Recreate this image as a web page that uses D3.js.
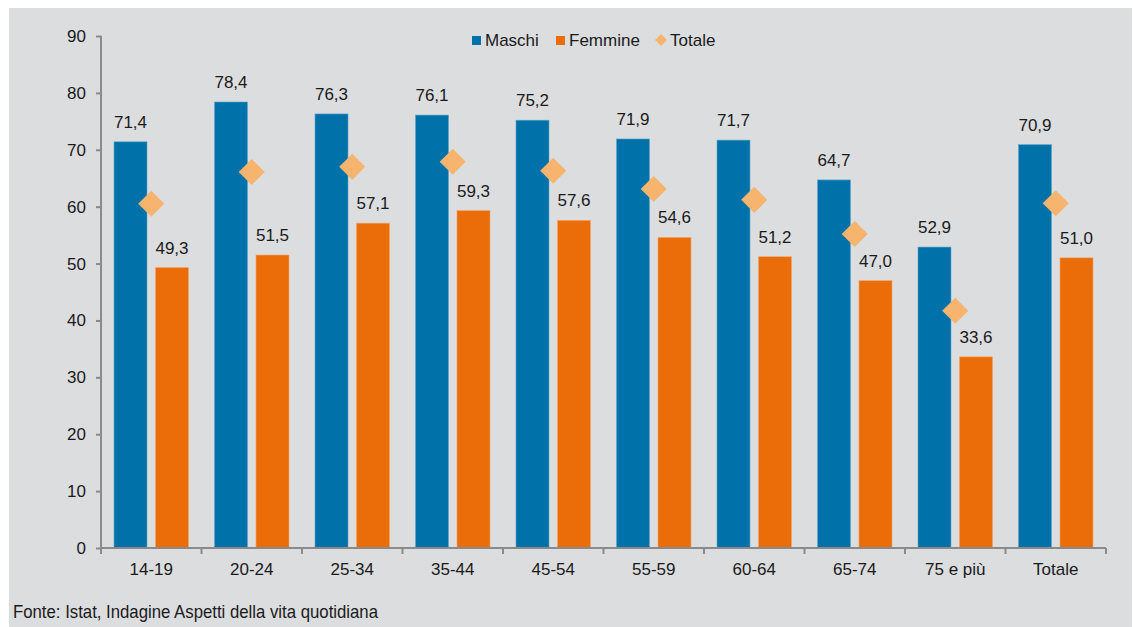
<!DOCTYPE html>
<html lang="it">
<head>
<meta charset="UTF-8">
<title>Grafico</title>
<style>
  body { margin: 0; background: #ffffff; }
  svg text { font-family: "Liberation Sans", Arial, sans-serif; fill: #1a1a1a; }
</style>
</head>
<body>
<script src="https://cdn.jsdelivr.net/npm/d3@7"></script>
<script>
// dati
var categorie = ["14-19", "20-24", "25-34", "35-44", "45-54", "55-59", "60-64", "65-74", "75 e più", "Totale"];
var maschi  = [71.4, 78.4, 76.3, 76.1, 75.2, 71.9, 71.7, 64.7, 52.9, 70.9];
var femmine = [49.3, 51.5, 57.1, 59.3, 57.6, 54.6, 51.2, 47.0, 33.6, 51.0];
var totale  = [60.5, 66.1, 67.0, 67.9, 66.3, 63.1, 61.2, 55.2, 41.7, 60.6];
var yTicks = [0, 10, 20, 30, 40, 50, 60, 70, 80, 90];
var serie = ["Maschi", "Femmine", "Totale"];

var W = 1133, H = 627;
var colBlu = "#0072a9", colAra = "#ea6d0a", colTot = "#f6b46f";
var fs = 17;

var svg = d3.select("body").append("svg").attr("width", W).attr("height", H);

// sfondo grigio
svg.append("rect").attr("x", 9).attr("y", 8).attr("width", W - 10).attr("height", H - 8)
    .attr("fill", "#dcdddf");

var x0 = 101, x1 = 1106, yTop = 36, yBot = 548;

var x = d3.scaleBand().domain(categorie).range([x0, x1]).paddingInner(0).paddingOuter(0);
var y = d3.scaleLinear().domain([0, 90]).range([yBot, yTop]);

var bw = 33, gap = 8.5;

var fmt = function (v) { return d3.format(".1f")(v).replace(".", ","); };

// barre maschi
svg.append("g").selectAll("rect").data(maschi).join("rect")
    .attr("x", function (d, i) { return x(categorie[i]) + x.bandwidth() / 2 - gap / 2 - bw; })
    .attr("y", function (d) { return y(d); })
    .attr("width", bw)
    .attr("height", function (d) { return y(0) - y(d); })
    .attr("fill", colBlu).attr("stroke", "#5aa6cc").attr("stroke-width", 0.6);

// barre femmine
svg.append("g").selectAll("rect").data(femmine).join("rect")
    .attr("x", function (d, i) { return x(categorie[i]) + x.bandwidth() / 2 + gap / 2; })
    .attr("y", function (d) { return y(d); })
    .attr("width", bw)
    .attr("height", function (d) { return y(0) - y(d); })
    .attr("fill", colAra).attr("stroke", "#f3a466").attr("stroke-width", 0.6);

// etichette
svg.append("g").selectAll("text").data(maschi).join("text")
    .attr("x", function (d, i) { return x(categorie[i]) + x.bandwidth() / 2 - gap / 2 - bw / 2; })
    .attr("y", function (d) { return y(d) - 14; })
    .attr("text-anchor", "middle").attr("font-size", fs)
    .text(fmt);

svg.append("g").selectAll("text").data(femmine).join("text")
    .attr("x", function (d, i) { return x(categorie[i]) + x.bandwidth() / 2 + gap / 2 + bw / 2; })
    .attr("y", function (d) { return y(d) - 14; })
    .attr("text-anchor", "middle").attr("font-size", fs)
    .text(fmt);

// rombi totale
var rombo = d3.symbol().type(d3.symbolSquare).size(340);
svg.append("g").selectAll("path").data(totale).join("path")
    .attr("d", rombo)
    .attr("transform", function (d, i) {
        return "translate(" + (x(categorie[i]) + x.bandwidth() / 2) + "," + y(d) + ") rotate(45)";
    })
    .attr("fill", colTot);

// asse y
var yAxis = d3.axisLeft(y).tickValues(yTicks).tickSize(5).tickPadding(10);
var gy = svg.append("g").attr("transform", "translate(" + x0 + ",0)").call(yAxis);
gy.selectAll("path, line").attr("stroke", "#8a8a8a").attr("stroke-width", 2);
gy.select(".domain").attr("d", "M0," + yTop + "V" + yBot);
gy.selectAll("text").attr("font-size", fs).attr("font-family", "'Liberation Sans', Arial, sans-serif").attr("fill", "#1a1a1a");

// asse x
var gx = svg.append("g").attr("transform", "translate(0," + yBot + ")");
gx.append("line").attr("x1", x0).attr("x2", x1).attr("stroke", "#8a8a8a").attr("stroke-width", 2);
gx.selectAll("line.tk").data(categorie.concat(["fine"])).join("line").attr("class", "tk")
    .attr("x1", function (d, i) { return i < categorie.length ? x(d) : x1; })
    .attr("x2", function (d, i) { return i < categorie.length ? x(d) : x1; })
    .attr("y1", 0).attr("y2", 6)
    .attr("stroke", "#8a8a8a").attr("stroke-width", 2);
gx.selectAll("text").data(categorie).join("text")
    .attr("x", function (d) { return x(d) + x.bandwidth() / 2; })
    .attr("y", 27).attr("text-anchor", "middle").attr("font-size", fs)
    .text(function (d) { return d; });

// legenda
var leg = [
    { nome: serie[0], x: 472, tipo: "q", col: colBlu },
    { nome: serie[1], x: 556, tipo: "q", col: colAra },
    { nome: serie[2], x: 655, tipo: "r", col: colTot }
];
var gl = svg.append("g");
leg.forEach(function (l) {
    if (l.tipo === "q") {
        gl.append("rect").attr("x", l.x).attr("y", 36).attr("width", 9).attr("height", 9).attr("fill", l.col);
        gl.append("text").attr("x", l.x + 13).attr("y", 46).attr("font-size", fs).text(l.nome);
    } else {
        gl.append("path").attr("d", d3.symbol().type(d3.symbolSquare).size(72))
            .attr("transform", "translate(" + (l.x + 6) + ",40) rotate(45)").attr("fill", l.col);
        gl.append("text").attr("x", l.x + 15).attr("y", 46).attr("font-size", fs).text(l.nome);
    }
});

// fonte
svg.append("text").attr("x", 13).attr("y", 618)
    .attr("font-size", 19).attr("fill", "#333")
    .attr("textLength", 365).attr("lengthAdjust", "spacingAndGlyphs")
    .text("Fonte: Istat, Indagine Aspetti della vita quotidiana");
</script>
</body>
</html>
